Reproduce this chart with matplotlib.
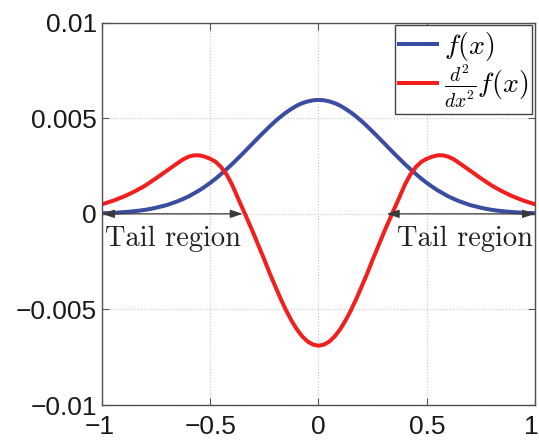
import matplotlib
matplotlib.use("Agg")
import matplotlib.pyplot as plt
from matplotlib.transforms import ScaledTranslation

plt.rcParams['mathtext.fontset'] = 'cm'
plt.rcParams['font.family'] = ['Liberation Sans', 'DejaVu Sans']

# x samples (every 0.025)
x = [-1.000, -0.975, -0.950, -0.925, -0.900, -0.875, -0.850, -0.825, -0.800, -0.775,
     -0.750, -0.725, -0.700, -0.675, -0.650, -0.625, -0.600, -0.575, -0.550, -0.525,
     -0.500, -0.475, -0.450, -0.425, -0.400, -0.375, -0.350, -0.325, -0.300, -0.275,
     -0.250, -0.225, -0.200, -0.175, -0.150, -0.125, -0.100, -0.075, -0.050, -0.025,
     0.000,
     0.025, 0.050, 0.075, 0.100, 0.125, 0.150, 0.175, 0.200, 0.225, 0.250,
     0.275, 0.300, 0.325, 0.350, 0.375, 0.400, 0.425, 0.450, 0.475, 0.500,
     0.525, 0.550, 0.575, 0.600, 0.625, 0.650, 0.675, 0.700, 0.725, 0.750,
     0.775, 0.800, 0.825, 0.850, 0.875, 0.900, 0.925, 0.950, 0.975, 1.000]

# f(x), blue
f = [0.00003, 0.00004, 0.00005, 0.00007, 0.00009, 0.00011, 0.00014, 0.00017, 0.00021, 0.00026,
     0.00032, 0.00039, 0.00046, 0.00056, 0.00066, 0.00078, 0.00091, 0.00107, 0.00123, 0.00142,
     0.00162, 0.00184, 0.00208, 0.00233, 0.00259, 0.00287, 0.00315, 0.00344, 0.00373, 0.00402,
     0.00430, 0.00458, 0.00484, 0.00508, 0.00530, 0.00549, 0.00566, 0.00579, 0.00588, 0.00594,
     0.00596,
     0.00594, 0.00588, 0.00579, 0.00566, 0.00549, 0.00530, 0.00508, 0.00484, 0.00458, 0.00430,
     0.00402, 0.00373, 0.00344, 0.00315, 0.00287, 0.00259, 0.00233, 0.00208, 0.00184, 0.00162,
     0.00142, 0.00123, 0.00107, 0.00091, 0.00078, 0.00066, 0.00056, 0.00046, 0.00039, 0.00032,
     0.00026, 0.00021, 0.00017, 0.00014, 0.00011, 0.00009, 0.00007, 0.00005, 0.00004, 0.00003]

# second derivative (scaled), red
d2f = [0.00050, 0.00059, 0.00068, 0.00079, 0.00090, 0.00103, 0.00117, 0.00132, 0.00148, 0.00167,
       0.00186, 0.00206, 0.00226, 0.00246, 0.00266, 0.00285, 0.00299, 0.00306, 0.00306, 0.00299,
       0.00288, 0.00272, 0.00245, 0.00207, 0.00155, 0.00090, 0.00026, -0.00038, -0.00103, -0.00172,
       -0.00240, -0.00312, -0.00378, -0.00444, -0.00504, -0.00558, -0.00604, -0.00641, -0.00668, -0.00684,
       -0.00690,
       -0.00684, -0.00668, -0.00641, -0.00604, -0.00558, -0.00504, -0.00444, -0.00378, -0.00312, -0.00240,
       -0.00172, -0.00103, -0.00038, 0.00026, 0.00090, 0.00155, 0.00207, 0.00245, 0.00272, 0.00288,
       0.00299, 0.00306, 0.00306, 0.00299, 0.00285, 0.00266, 0.00246, 0.00226, 0.00206, 0.00186,
       0.00167, 0.00148, 0.00132, 0.00117, 0.00103, 0.00090, 0.00079, 0.00068, 0.00059, 0.00050]

xticks = [-1, -0.5, 0, 0.5, 1]
xticklabels = ['\u22121', '\u22120.5', '0', '0.5', '1']
yticks = [-0.01, -0.005, 0, 0.005, 0.01]
yticklabels = ['\u22120.01', '\u22120.005', '0', '0.005', '0.01']

# tail regions (arrow extents)
tail_left = (-1.0, -0.35)
tail_right = (0.315, 1.0)

fig = plt.figure(figsize=(5.39, 4.4), dpi=100)
ax = fig.add_axes([0.1892, 0.0795, 0.8034, 0.869])

ax.plot(x, f, color='#3A4DA0', lw=2.9, label=r'$f(x)$')
ax.plot(x, d2f, color='#F0201E', lw=2.9, label=r'$\frac{d^2}{dx^2}f(x)$')

ax.set_xlim(-1, 1)
ax.set_ylim(-0.01, 0.01)
ax.set_xticks(xticks)
ax.set_xticklabels(xticklabels)
ax.set_yticks(yticks)
ax.set_yticklabels(yticklabels)
ax.tick_params(direction='in', length=5, width=0.8, colors='#555555', labelcolor='#1a1a1a',
               labelsize=19, top=True, right=True)
ax.tick_params(axis='x', pad=7)
ax.grid(True, linestyle=':', color='#c8c8c8', lw=0.8)
for s in ax.spines.values():
    s.set_color('#505050')
    s.set_linewidth(1.0)

# nudge the end labels so they stay inside the figure
labs = ax.get_xticklabels()
labs[-1].set_transform(labs[-1].get_transform() + ScaledTranslation(-4 / 100, 0, fig.dpi_scale_trans))
labs[0].set_transform(labs[0].get_transform() + ScaledTranslation(-2 / 100, 0, fig.dpi_scale_trans))

# tail arrows
for a, b in (tail_left, tail_right):
    ax.annotate('', xy=(b, 0), xytext=(a, 0),
                arrowprops=dict(arrowstyle='<|-|>,head_length=0.75,head_width=0.25',
                                color='#3a3a3a', lw=0.9, shrinkA=0, shrinkB=0))

ax.text(-0.985, -0.00166, 'Tail region', family='cmr10', fontsize=20.5,
        va='baseline', ha='left', color='#222222')
ax.text(0.99, -0.00166, 'Tail region', family='cmr10', fontsize=20.5,
        va='baseline', ha='right', color='#222222')

leg = ax.legend(loc='upper right', fontsize=20, fancybox=False, framealpha=1,
                edgecolor='#444444', borderaxespad=0.1, handlelength=1.35,
                handletextpad=0.25, borderpad=0.15, labelspacing=0.0)
leg.get_frame().set_linewidth(1.0)

fig.savefig('out.png', dpi=100)
